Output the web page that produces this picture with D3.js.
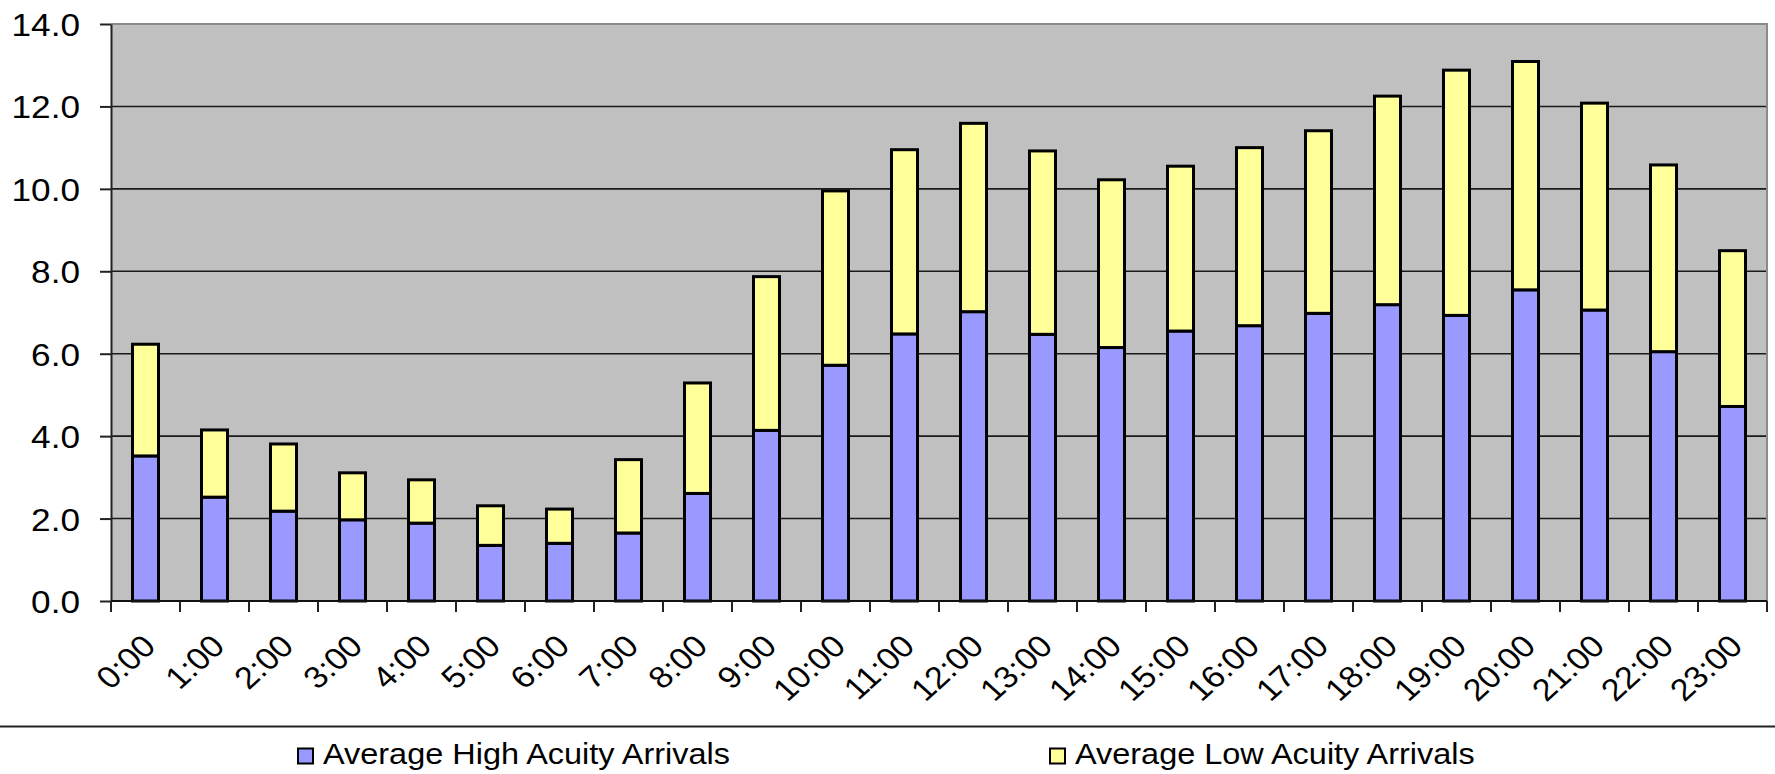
<!DOCTYPE html>
<html>
<head>
<meta charset="utf-8">
<script src="https://cdn.jsdelivr.net/npm/d3@7"></script>
<style>
  html, body { margin: 0; padding: 0; background: #ffffff; }
  svg { display: block; font-family: "Liberation Sans", Arial, sans-serif; }
</style>
</head>
<body>
<svg id="chart" width="1775" height="774"></svg>
<script>
// Hour of day categories
const hours = ["0:00","1:00","2:00","3:00","4:00","5:00","6:00","7:00","8:00","9:00","10:00","11:00",
               "12:00","13:00","14:00","15:00","16:00","17:00","18:00","19:00","20:00","21:00","22:00","23:00"];

// Average arrivals per hour
const highAcuity = [3.52,2.52,2.18,1.97,1.89,1.35,1.40,1.65,2.61,4.14,5.72,6.48,
                    7.02,6.47,6.15,6.55,6.68,6.98,7.19,6.93,7.55,7.06,6.05,4.72];
const lowAcuity  = [2.71,1.63,1.63,1.14,1.05,0.96,0.83,1.78,2.68,3.73,4.23,4.47,
                    4.57,4.45,4.07,4.00,4.32,4.43,5.06,5.95,5.54,5.02,4.53,3.78];

// Series names and y tick values
const seriesNames = ["Average High Acuity Arrivals", "Average Low Acuity Arrivals"];
const yTicks = [0, 2, 4, 6, 8, 10, 12, 14];

const seriesColors = ["#9999ff", "#ffff99"];
const stretch = 1.1;   // text is drawn slightly wide

const plot = { left: 111, right: 1767, top: 24, bottom: 601 };
const svg = d3.select("#chart");

const table = hours.map((h, i) => ({ hour: h, high: highAcuity[i], low: lowAcuity[i] }));
const stacked = d3.stack().keys(["high", "low"])(table);

const x = d3.scaleBand().domain(hours).range([plot.left, plot.right]).padding(0);
const y = d3.scaleLinear().domain([0, 14]).range([plot.bottom, plot.top]);
const barW = 26;

// Plot background
svg.append("rect")
  .attr("x", plot.left).attr("y", plot.top)
  .attr("width", plot.right - plot.left).attr("height", plot.bottom - plot.top)
  .attr("fill", "#c0c0c0");

// Horizontal gridlines
svg.append("g").selectAll("line")
  .data(yTicks.filter(t => t > 0 && t < 14))
  .join("line")
  .attr("x1", plot.left).attr("x2", plot.right)
  .attr("y1", d => y(d)).attr("y2", d => y(d))
  .attr("stroke", "#1a1a1a").attr("stroke-width", 1.6);

// Plot border (top and right)
svg.append("path")
  .attr("d", `M${plot.left},${plot.top}H${plot.right}V${plot.bottom}`)
  .attr("fill", "none").attr("stroke", "#8a8a8a").attr("stroke-width", 2);

// Stacked bars
svg.append("g").selectAll("g")
  .data(stacked)
  .join("g")
  .attr("fill", (d, i) => seriesColors[i])
  .selectAll("rect")
  .data(d => d)
  .join("rect")
  .attr("x", d => x(d.data.hour) + (x.bandwidth() - barW) / 2)
  .attr("y", d => y(d[1]))
  .attr("width", barW)
  .attr("height", d => y(d[0]) - y(d[1]))
  .attr("stroke", "#000").attr("stroke-width", 3);

// Y axis
const yAxis = svg.append("g")
  .attr("transform", `translate(${plot.left},0)`)
  .call(d3.axisLeft(y).tickValues(yTicks).tickFormat(d3.format(".1f")).tickSize(11).tickSizeOuter(0));
yAxis.select(".domain").attr("stroke", "#222").attr("stroke-width", 2);
yAxis.selectAll(".tick line").attr("stroke", "#222").attr("stroke-width", 2);
yAxis.selectAll(".tick text")
  .attr("x", null).attr("dy", "0.36em")
  .attr("transform", `translate(-31,0) scale(${stretch},1)`)
  .attr("font-size", 32).attr("fill", "#000")
  .attr("font-family", "Liberation Sans, Arial, sans-serif");

// X axis line and boundary ticks
const xAxis = svg.append("g");
xAxis.append("line")
  .attr("x1", plot.left).attr("x2", plot.right)
  .attr("y1", plot.bottom).attr("y2", plot.bottom)
  .attr("stroke", "#111").attr("stroke-width", 2);
const boundaries = hours.map(h => x(h)).concat([x.range()[1]]);
xAxis.selectAll("line.tick")
  .data(boundaries)
  .join("line")
  .attr("class", "tick")
  .attr("x1", d => d).attr("x2", d => d)
  .attr("y1", plot.bottom).attr("y2", plot.bottom + 11)
  .attr("stroke", "#222").attr("stroke-width", 2);

// Rotated hour labels
xAxis.selectAll("text")
  .data(hours)
  .join("text")
  .attr("transform", d => `translate(${x(d) + x.bandwidth() / 2 + 12},648) scale(${stretch},1) rotate(-45)`)
  .attr("text-anchor", "end")
  .attr("font-size", 31)
  .attr("fill", "#000")
  .text(d => d);

// Separator above legend
svg.append("line")
  .attr("x1", 0).attr("x2", 1775)
  .attr("y1", 726.5).attr("y2", 726.5)
  .attr("stroke", "#222").attr("stroke-width", 2);

// Legend
const legendX = [298, 1050];
const legend = svg.append("g").selectAll("g")
  .data(seriesNames)
  .join("g")
  .attr("transform", (d, i) => `translate(${legendX[i]},0)`);
legend.append("rect")
  .attr("x", 0).attr("y", 748.5)
  .attr("width", 15).attr("height", 15)
  .attr("fill", (d, i) => seriesColors[i])
  .attr("stroke", "#000").attr("stroke-width", 2);
legend.append("text")
  .attr("transform", `translate(25,763.5) scale(${stretch},1)`)
  .attr("font-size", 29.5)
  .attr("fill", "#000")
  .text(d => d);
</script>
</body>
</html>
